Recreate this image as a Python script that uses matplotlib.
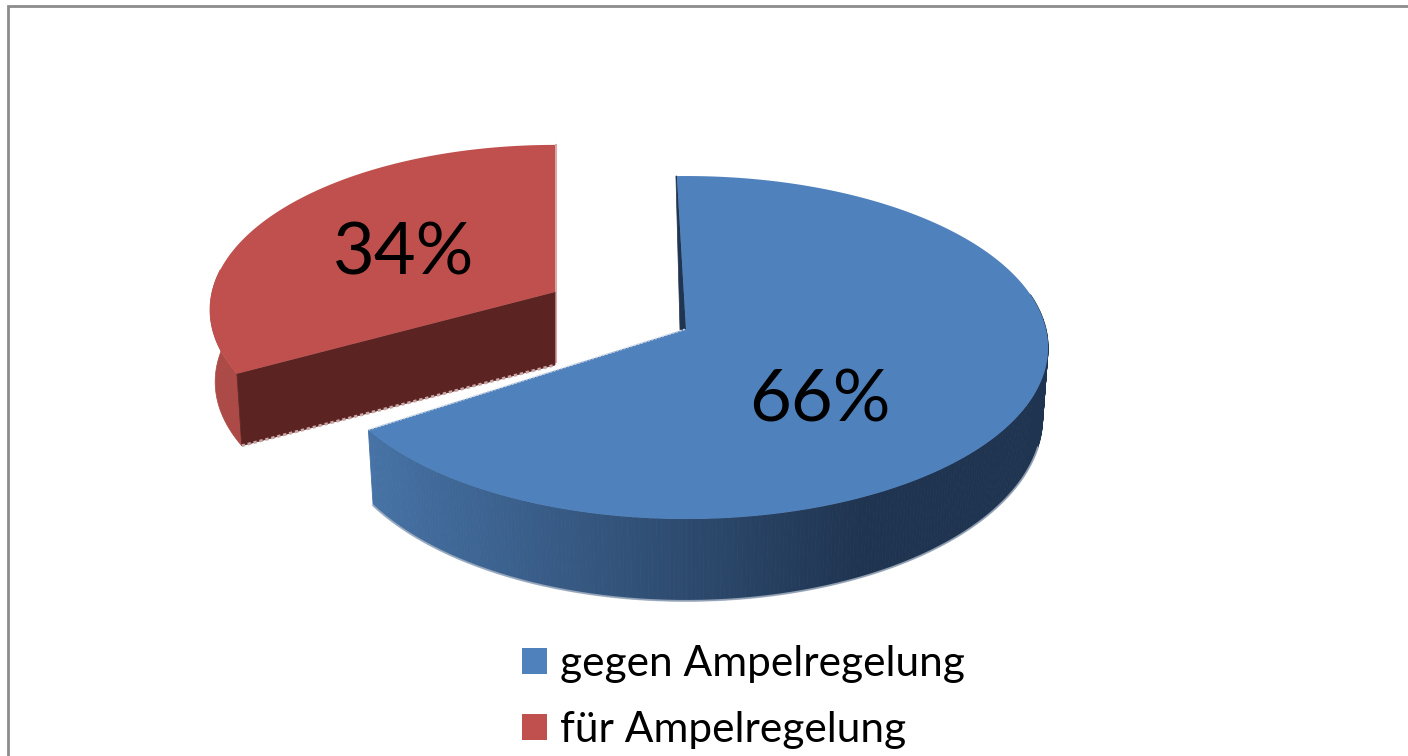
import numpy as np
import matplotlib
matplotlib.use("Agg")
import matplotlib.pyplot as plt
from matplotlib.patches import Patch
from matplotlib.colors import to_rgb

categories = ["gegen Ampelregelung", "für Ampelregelung"]
values = [66, 34]
labels = ["66%", "34%"]
top_colors = ["#4f81bd", "#c0504d"]

plt.rcParams["font.family"] = ["Lato", "DejaVu Sans"]

fig = plt.figure(figsize=(14.08, 7.56), dpi=100, facecolor="white")
ax = fig.add_axes([0, 0, 1, 1])
ax.set_xlim(0, 1408)
ax.set_ylim(756, 0)
ax.axis("off")

K = 0.108


def rim(theta_deg, cx, cy, rx, ry, drop=0.0, sx=1.0, sy=1.0):
    t = np.radians(theta_deg)
    u, v = np.cos(t), np.sin(t)
    w = 1 + K * v
    return cx + sx * rx * u / w, cy + drop - sy * ry * v / w


def lerp(c1, c2, f):
    a, b = np.array(to_rgb(c1)), np.array(to_rgb(c2))
    return tuple(a + (b - a) * np.clip(f, 0, 1))


# frame
ax.plot([8, 8, 1408], [756, 6, 6], color="#8c8c8c", lw=2.0, solid_joinstyle="miter")

# angular spans come from the values
sweep_blue = 360 * values[0] / sum(values)
sweep_red = 360 * values[1] / sum(values)

# ---------- red slice (exploded) ----------
r_geo = dict(cx=555, cy=292, rx=343, ry=163)
r_start = 86.0
r_end = r_start + sweep_red
r_drop = dict(drop=72, sx=0.985, sy=1.0)
apx, apy = r_geo["cx"], r_geo["cy"]

th = np.linspace(172, r_end, 30)
xt, yt = rim(th, **r_geo)
xb, yb = rim(th, **r_geo, **r_drop)
ax.fill(np.r_[xt, xb[::-1]], np.r_[yt, yb[::-1]], color="#ab4a46", lw=0.5, zorder=2)

cx_t, cy_t = rim(r_end, **r_geo)
cx_b, cy_b = rim(r_end, **r_geo, **r_drop)
ax.fill([apx, cx_t, cx_b, apx], [apy, cy_t, cy_b, apy + 73], color="#5b2322", lw=0.5, zorder=3)
ax.plot([cx_b, apx], [cy_b, apy + 73], color="#c8a6a5", lw=2, ls=(0, (1.2, 1.0)), zorder=3)
ax.plot([apx + 1, apx + 1], [apy - 147, apy + 70], color="#d9a9a7", lw=1.5, zorder=2)

th = np.linspace(r_start, r_end, 200)
xt, yt = rim(th, **r_geo)
ax.fill(np.r_[apx, np.minimum(xt, apx)], np.r_[apy, yt], color=top_colors[1], lw=0, zorder=4)

# ---------- blue slice ----------
b_geo = dict(cx=686, cy=329, rx=360, ry=169.5)
b_start = 91.6
b_end = b_start - sweep_blue + 360
b_drop = dict(drop=68.6, sx=0.985, sy=1.07)
apx, apy = b_geo["cx"], b_geo["cy"]

# inner sliver of the cut face
sx0, sy0 = rim(b_start, **b_geo)
ax.fill([sx0, apx, apx - 6, sx0 - 1], [sy0, apy, apy + 1, sy0], color="#1f3550", lw=0.5, zorder=5)

# outer wall with shading
th = np.linspace(b_end, 372, 260)
xt, yt = rim(th, **b_geo)
xb, yb = rim(th, **b_geo, **b_drop)
for i in range(len(th) - 1):
    xm = 0.5 * (xt[i] + xb[i])
    f = (xm - 372) / (860 - 372)
    col = lerp("#4672a5", "#1f3450", f)
    ax.fill([xt[i], xt[i + 1], xb[i + 1], xb[i]], [yt[i], yt[i + 1], yb[i + 1], yb[i]],
            color=col, lw=0.6, zorder=6)
keep = th < 345
ax.plot(xb[keep], yb[keep], color="#a9b6c6", lw=1.4, alpha=0.8, zorder=6)

th = np.linspace(b_end, b_start + 360, 400)
xt, yt = rim(th, **b_geo)
ax.fill(np.r_[apx, xt], np.r_[apy, yt], color=top_colors[0], lw=0, zorder=7)
ex, ey = rim(b_end, **b_geo)
ax.plot([ex, apx], [ey, apy], color="#c8d3e3", lw=1.2, ls=(0, (1.2, 1.0)), zorder=7)

# data labels
ax.text(820, 401, labels[0], fontsize=52, ha="center", va="center", color="black", zorder=10)
ax.text(404, 254, labels[1], fontsize=52, ha="center", va="center", color="black", zorder=10)

# legend
handles = [Patch(facecolor=c, edgecolor="none") for c in top_colors]
leg = ax.legend(handles, categories, loc="upper left", bbox_to_anchor=(522 / 1408, 1 - 645 / 756),
                frameon=False, fontsize=30.5, handlelength=0.59, handleheight=0.59,
                handletextpad=0.30, labelspacing=0.66, borderpad=0, borderaxespad=0)
for t in leg.get_texts():
    t.set_color("black")

fig.savefig("out.png", dpi=100, facecolor="white")
